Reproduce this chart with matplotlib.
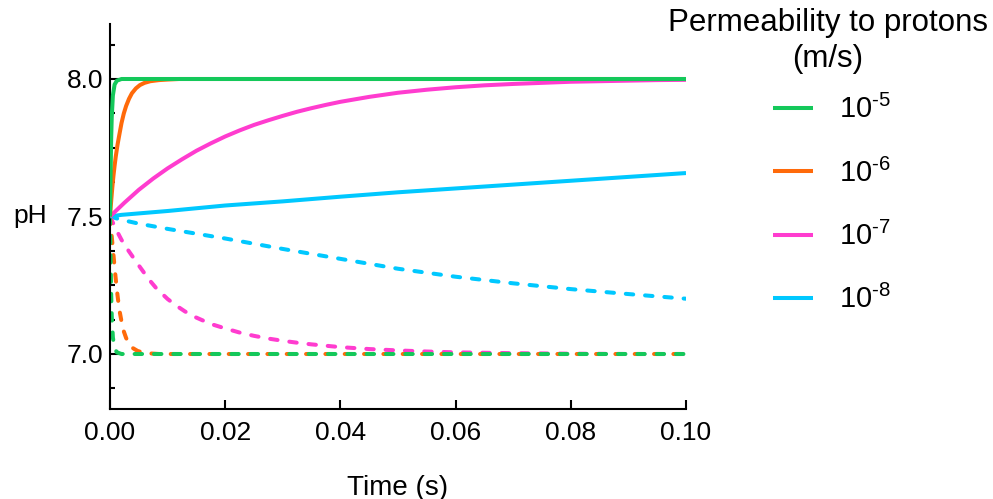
import matplotlib
matplotlib.use("Agg")
import matplotlib.pyplot as plt
from matplotlib.ticker import MultipleLocator

plt.rcParams['font.family'] = ['Liberation Sans', 'DejaVu Sans']
plt.rcParams['mathtext.fontset'] = 'custom'
plt.rcParams['mathtext.rm'] = 'Liberation Sans'
plt.rcParams['mathtext.it'] = 'Liberation Sans'

# values (time in s, pH)
labels = ['10$^{\\text{-5}}$', '10$^{\\text{-6}}$',
          '10$^{\\text{-7}}$', '10$^{\\text{-8}}$']
colors = ['#14c85a', '#ff6a0a', '#ff3ccf', '#00c8ff']

# 1e-5 m/s
t_5_up = [0, 0.0001, 0.0002, 0.0003, 0.0005, 0.0008, 0.0012, 0.002, 0.1]
ph_5_up = [7.5, 7.65, 7.78, 7.86, 7.94, 7.98, 7.994, 8.0, 8.0]
t_5_dn = [0, 0.0001, 0.0002, 0.0003, 0.0005, 0.0008, 0.0012, 0.002, 0.1]
ph_5_dn = [7.5, 7.35, 7.22, 7.14, 7.06, 7.02, 7.006, 7.0, 7.0]

# 1e-6 m/s
t_6_up = [0, 0.0002, 0.0004, 0.0006, 0.0008, 0.001, 0.0013, 0.0016, 0.002, 0.0024,
          0.0028, 0.0033, 0.0038, 0.0045, 0.0052, 0.006, 0.007, 0.0085, 0.01, 0.012, 0.1]
ph_6_up = [7.5, 7.555, 7.605, 7.648, 7.685, 7.718, 7.76, 7.795, 7.84, 7.875,
           7.902, 7.928, 7.948, 7.966, 7.978, 7.986, 7.992, 7.996, 7.998, 8.0, 8.0]
t_6_dn = [0, 0.0002, 0.0004, 0.0006, 0.0008, 0.001, 0.0012, 0.0014, 0.0017, 0.002,
          0.0024, 0.0028, 0.0033, 0.004, 0.0048, 0.0058, 0.007, 0.0085, 0.1]
ph_6_dn = [7.5, 7.45, 7.405, 7.36, 7.315, 7.272, 7.232, 7.197, 7.152, 7.118,
           7.082, 7.058, 7.038, 7.021, 7.011, 7.005, 7.002, 7.0, 7.0]

# 1e-7 m/s
t_7_up = [0, 0.0025, 0.005, 0.0075, 0.01, 0.0125, 0.015, 0.0175, 0.02, 0.0225,
          0.025, 0.0275, 0.03, 0.0325, 0.035, 0.0375, 0.04, 0.045, 0.05, 0.055,
          0.06, 0.065, 0.07, 0.075, 0.08, 0.085, 0.09, 0.095, 0.1]
ph_7_up = [7.5, 7.55, 7.597, 7.638, 7.675, 7.708, 7.739, 7.766, 7.791, 7.813,
           7.833, 7.85, 7.866, 7.881, 7.894, 7.906, 7.917, 7.935, 7.95, 7.961,
           7.97, 7.977, 7.982, 7.986, 7.99, 7.992, 7.994, 7.996, 7.997]
t_7_dn = [0, 0.001, 0.002, 0.003, 0.004, 0.005, 0.006, 0.007, 0.008, 0.009,
          0.01, 0.0115, 0.013, 0.0145, 0.016, 0.018, 0.02, 0.0225, 0.025, 0.0275,
          0.03, 0.0325, 0.035, 0.0375, 0.04, 0.045, 0.05, 0.055, 0.06, 0.07,
          0.08, 0.09, 0.1]
ph_7_dn = [7.5, 7.455, 7.415, 7.382, 7.352, 7.322, 7.293, 7.265, 7.24, 7.22,
           7.2, 7.176, 7.155, 7.137, 7.123, 7.106, 7.093, 7.078, 7.066, 7.056,
           7.048, 7.041, 7.035, 7.03, 7.025, 7.018, 7.013, 7.009, 7.006, 7.003,
           7.001, 7.0, 7.0]

# 1e-8 m/s
t_8_up = [0, 0.002, 0.01, 0.02, 0.03, 0.04, 0.05, 0.06, 0.07, 0.08, 0.09, 0.1]
ph_8_up = [7.5, 7.506, 7.52, 7.54, 7.555, 7.572, 7.588, 7.602, 7.616, 7.63, 7.644, 7.658]
t_8_dn = [0, 0.002, 0.005, 0.01, 0.02, 0.03, 0.04, 0.05, 0.06, 0.07, 0.08, 0.09, 0.1]
ph_8_dn = [7.5, 7.488, 7.474, 7.455, 7.42, 7.382, 7.346, 7.31, 7.281, 7.257, 7.236, 7.218, 7.201]

t_base = [0, 0.099]
ph_base = [7.5, 7.5]

ups = [(t_5_up, ph_5_up), (t_6_up, ph_6_up), (t_7_up, ph_7_up), (t_8_up, ph_8_up)]
downs = [(t_5_dn, ph_5_dn), (t_6_dn, ph_6_dn), (t_7_dn, ph_7_dn), (t_8_dn, ph_8_dn)]

fig = plt.figure(figsize=(9.93, 4.99), dpi=100)
ax = fig.add_axes([110 / 993, 1 - 409 / 499, 576 / 993, 385 / 499])

ax.plot(t_base, ph_base, color='black', lw=2.3, linestyle=(0, (0, 3.65)),
        dash_capstyle='round', zorder=1)

lw = 2.9
handles = []
# slowest first so the fast (green) curves end up on top
for i in [3, 2, 1, 0]:
    td, pd_ = downs[i]
    ax.plot(td, pd_, color=colors[i], lw=lw, linestyle=(0, (1.85, 2.95)),
            dash_capstyle='round', zorder=2 + (3 - i) * 0.1)
for i in [3, 2, 1, 0]:
    tu, pu = ups[i]
    h, = ax.plot(tu, pu, color=colors[i], lw=lw, solid_capstyle='butt',
                 solid_joinstyle='round', zorder=3 + (3 - i) * 0.1, label=labels[i])
    handles.append(h)
handles = handles[::-1]

ax.set_xlim(0, 0.1)
ax.set_ylim(6.8, 8.2)
ax.set_xticks([0, 0.02, 0.04, 0.06, 0.08, 0.10])
ax.set_xticklabels(['0.00', '0.02', '0.04', '0.06', '0.08', '0.10'])
ax.set_yticks([7.0, 7.5, 8.0])
ax.set_yticklabels(['7.0', '7.5', '8.0'])
ax.yaxis.set_minor_locator(MultipleLocator(0.125))

for side in ['top', 'right']:
    ax.spines[side].set_visible(False)
for side in ['left', 'bottom']:
    ax.spines[side].set_linewidth(1.5)

ax.tick_params(axis='both', which='major', direction='in', length=6.5, width=1.5,
               pad=5, labelsize=19)
ax.tick_params(axis='x', which='major', pad=9)
ax.tick_params(axis='y', which='minor', direction='in', length=3.8, width=1.5)

ax.set_xlabel('Time (s)', fontsize=20, labelpad=21)
ax.set_ylabel('pH', fontsize=19, rotation=0, va='center', ha='right')
ax.yaxis.set_label_coords(-0.109, 0.5)

fig.text(828 / 993, 1 - 41 / 499, 'Permeability to protons\n(m/s)', fontsize=22.5,
         ha='center', va='center', multialignment='center', linespacing=1.25)

fig.legend(handles=handles, loc='upper left', bbox_to_anchor=(773 / 993, 1 - 95 / 499),
           frameon=False, fontsize=21, handlelength=1.37, handletextpad=0.89,
           labelspacing=1.17, borderpad=0.0, borderaxespad=0.0)

fig.savefig('out.png', dpi=100)
